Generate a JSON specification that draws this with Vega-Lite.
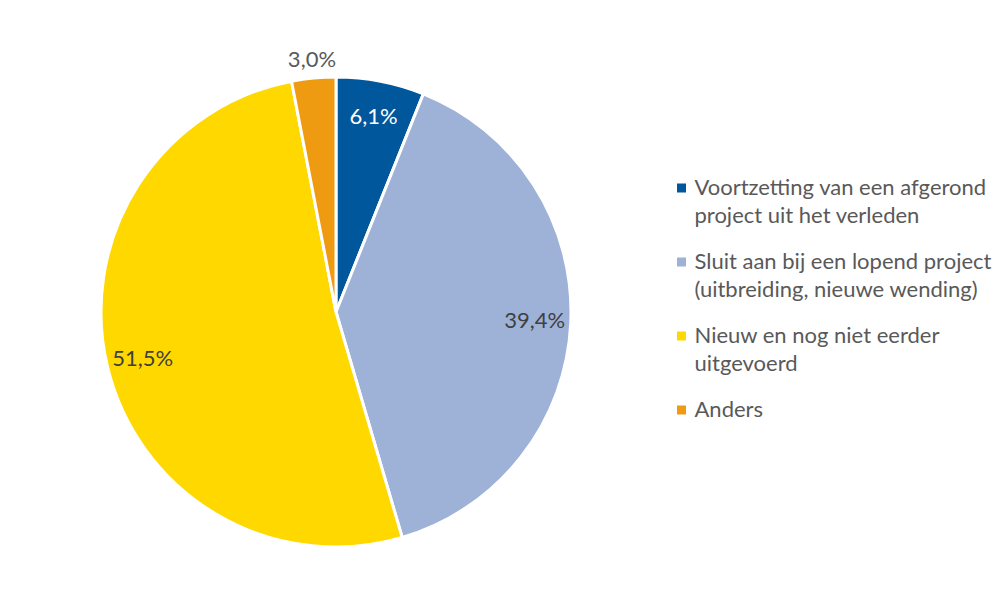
{
  "$schema": "https://vega.github.io/schema/vega-lite/v6.json",
  "width": 470,
  "height": 470,
  "autosize": {"type": "none"},
  "padding": {"left": 101, "top": 77, "right": 434, "bottom": 58},
  "background": "white",
  "config": {"view": {"stroke": null}, "style": {"guide-label": {"lineHeight": 28}}},
  "data": {
    "values": [
      {"idx": 1, "cat": "Voortzetting van een afgerond|project uit het verleden", "n": 2, "label": "6,1%"},
      {"idx": 2, "cat": "Sluit aan bij een lopend project|(uitbreiding, nieuwe wending)", "n": 13, "label": "39,4%"},
      {"idx": 3, "cat": "Nieuw en nog niet eerder|uitgevoerd", "n": 17, "label": "51,5%"},
      {"idx": 4, "cat": "Anders", "n": 1, "label": "3,0%"}
    ]
  },
  "encoding": {
    "theta": {"field": "n", "type": "quantitative", "stack": true},
    "order": {"field": "idx", "type": "quantitative"}
  },
  "layer": [
    {
      "mark": {"type": "arc", "outerRadius": 235, "stroke": "white", "strokeWidth": 3},
      "encoding": {
        "color": {
          "field": "cat",
          "type": "nominal",
          "sort": null,
          "scale": {
            "domain": [
              "Voortzetting van een afgerond|project uit het verleden",
              "Sluit aan bij een lopend project|(uitbreiding, nieuwe wending)",
              "Nieuw en nog niet eerder|uitgevoerd",
              "Anders"
            ],
            "range": ["#01579B", "#9EB2D8", "#FFD800", "#EE9B12"]
          },
          "legend": {
            "title": null,
            "orient": "none",
            "legendX": 569.5,
            "legendY": 100,
            "padding": 0,
            "symbolType": "square",
            "symbolSize": 81,
            "symbolStrokeWidth": 0,
            "labelFont": "Lato",
            "labelFontSize": 22,
            "labelColor": "#595959",
            "labelOffset": 2,
            "labelLimit": 0,
            "rowPadding": 24,
            "labelExpr": "split(datum.label, '|')",
            "encode": {"labels": {"enter": {"lineHeight": {"value": 28}}, "update": {"lineHeight": {"value": 28}}}}
          }
        }
      }
    },
    {
      "mark": {"type": "text", "radius": 199, "font": "Lato", "fontSize": 22},
      "encoding": {
        "detail": {"field": "cat", "type": "nominal"},
        "text": {"condition": {"test": "datum.idx != 4", "field": "label"}, "value": ""},
        "color": {"condition": {"test": "datum.idx == 1", "value": "white"}, "value": "#404040"}
      }
    },
    {
      "mark": {"type": "text", "radius": 253, "font": "Lato", "fontSize": 22, "color": "#595959"},
      "encoding": {
        "detail": {"field": "cat", "type": "nominal"},
        "text": {"condition": {"test": "datum.idx == 4", "field": "label"}, "value": ""}
      }
    }
  ]
}
